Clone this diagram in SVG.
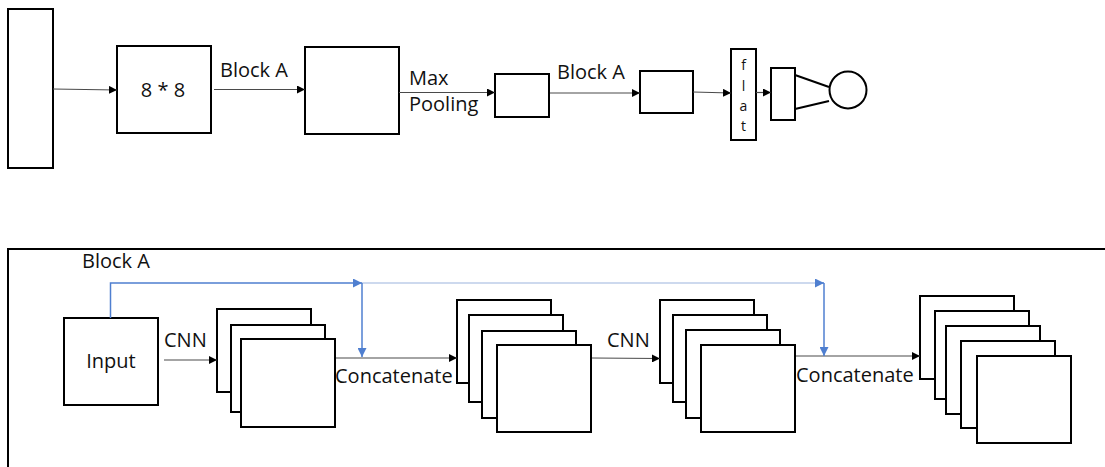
<svg xmlns="http://www.w3.org/2000/svg" width="1105" height="467" viewBox="0 0 1105 467">
  <style>
    .box { fill: #ffffff; stroke: #000000; stroke-width: 2; }
    .frame { fill: none; stroke: #000000; stroke-width: 2; }
    .conn { fill: none; stroke: #4a4a4a; stroke-width: 1.2; }
    .skip { fill: none; stroke: #4f7fd0; stroke-width: 1.5; }
    .skip-faint { fill: none; stroke: #bccde9; stroke-width: 1.5; }
    .lbl { font-family: "Open Sans", "Noto Sans", sans-serif; font-size: 20px; fill: #111111; }
    .small { font-family: "Open Sans", "Noto Sans", sans-serif; font-size: 14px; fill: #111111; text-anchor: middle; }
  </style>
  <defs>
    <marker id="arrow" viewBox="0 0 10 10" refX="10" refY="5" markerWidth="8" markerHeight="8" markerUnits="userSpaceOnUse" orient="auto">
      <path d="M0,0 L10,5 L0,10 Z" fill="#000000"/>
    </marker>
    <marker id="arrow-blue" viewBox="0 0 10 10" refX="10" refY="5" markerWidth="9" markerHeight="9" markerUnits="userSpaceOnUse" orient="auto">
      <path d="M0,0 L10,5 L0,10 Z" fill="#4f7fd0"/>
    </marker>
  </defs>

  <!-- Top pipeline -->
  <g id="input-column"><rect class="box" x="8" y="9" width="45" height="159"/></g>
  <g id="feature-8x8">
    <rect class="box" x="117" y="46" width="94" height="87"/>
    <text class="lbl" x="163" y="97" text-anchor="middle">8 * 8</text>
  </g>
  <g id="block-a-out"><rect class="box" x="305" y="47" width="94" height="87"/></g>
  <g id="pooled"><rect class="box" x="495" y="74" width="54" height="43"/></g>
  <g id="block-a-out-2"><rect class="box" x="640" y="71" width="53" height="42"/></g>
  <g id="flatten">
    <rect class="box" x="731" y="49" width="25" height="91"/>
    <!-- "flat" stacked one letter per line -->
    <text class="small" x="743.5" y="70">f</text>
    <text class="small" x="743.5" y="91">l</text>
    <text class="small" x="743.5" y="111">a</text>
    <text class="small" x="743.5" y="131">t</text>
  </g>
  <g id="dense"><rect class="box" x="771" y="68" width="24" height="52"/></g>
  <g id="output"><circle class="box" cx="848" cy="90" r="18.5"/></g>

  <g id="top-labels">
    <text class="lbl" x="220" y="77">Block A</text>
    <text class="lbl" x="409" y="85">Max</text>
    <text class="lbl" x="409" y="111">Pooling</text>
    <text class="lbl" x="557" y="79">Block A</text>
  </g>

  <g id="top-connectors">
    <line class="conn" x1="53" y1="89" x2="117" y2="90" marker-end="url(#arrow)"/>
    <line class="conn" x1="214" y1="89.5" x2="305" y2="89.5" marker-end="url(#arrow)"/>
    <line class="conn" x1="399" y1="92.5" x2="495" y2="92.5" marker-end="url(#arrow)"/>
    <line class="conn" x1="550" y1="93" x2="640" y2="93" marker-end="url(#arrow)"/>
    <line class="conn" x1="693" y1="92" x2="731" y2="93" marker-end="url(#arrow)"/>
    <line class="conn" x1="756" y1="92.5" x2="771" y2="92.5" marker-end="url(#arrow)"/>
    <line x1="795" y1="75" x2="829" y2="87" stroke="#000" stroke-width="2"/>
    <line x1="795" y1="109" x2="829" y2="101" stroke="#000" stroke-width="2"/>
  </g>

  <!-- Block A detail -->
  <rect class="frame" x="8" y="249" width="1110" height="240"/>
  <text class="lbl" x="82" y="268">Block A</text>

  <g id="block-input">
    <rect class="box" x="64" y="318" width="94" height="87"/>
    <text class="lbl" x="111" y="368" text-anchor="middle">Input</text>
  </g>

  <g id="stack-1">
    <rect class="box" x="217" y="309" width="94" height="83"/>
    <rect class="box" x="231" y="325" width="94" height="87"/>
    <rect class="box" x="241" y="339" width="94" height="88"/>
  </g>

  <g id="stack-2">
    <rect class="box" x="457" y="300" width="94" height="83"/>
    <rect class="box" x="469" y="315" width="94" height="87"/>
    <rect class="box" x="482" y="331" width="94" height="87"/>
    <rect class="box" x="497" y="345" width="94" height="87"/>
  </g>

  <g id="stack-3">
    <rect class="box" x="660" y="300" width="94" height="83"/>
    <rect class="box" x="673" y="315" width="94" height="87"/>
    <rect class="box" x="686" y="330" width="94" height="88"/>
    <rect class="box" x="701" y="345" width="94" height="87"/>
  </g>

  <g id="stack-4">
    <rect class="box" x="920" y="296" width="94" height="83"/>
    <rect class="box" x="935" y="311" width="94" height="88"/>
    <rect class="box" x="946" y="326" width="94" height="88"/>
    <rect class="box" x="961" y="341" width="94" height="87"/>
    <rect class="box" x="977" y="356" width="94" height="87"/>
  </g>

  <g id="block-labels">
    <text class="lbl" x="164" y="347">CNN</text>
    <text class="lbl" x="335" y="383">Concatenate</text>
    <text class="lbl" x="607" y="347">CNN</text>
    <text class="lbl" x="796" y="382">Concatenate</text>
  </g>

  <g id="block-connectors">
    <line class="conn" x1="164" y1="360" x2="217" y2="360" marker-end="url(#arrow)"/>
    <line class="conn" x1="336" y1="358" x2="457" y2="358" marker-end="url(#arrow)"/>
    <line class="conn" x1="592" y1="358" x2="660" y2="358.5" marker-end="url(#arrow)"/>
    <line class="conn" x1="796" y1="356" x2="920" y2="356" marker-end="url(#arrow)"/>
    <!-- skip connection carrying the input forward -->
    <polyline class="skip" points="110.5,318 110.5,283 362,283" marker-end="url(#arrow-blue)"/>
    <line class="skip-faint" x1="362" y1="283" x2="816" y2="283"/>
    <line x1="816" y1="283" x2="824" y2="283" stroke="#4f7fd0" stroke-width="1.5" marker-end="url(#arrow-blue)"/>
    <line class="skip" x1="362" y1="283" x2="362" y2="357" marker-end="url(#arrow-blue)"/>
    <line class="skip" x1="824" y1="283" x2="824" y2="356" marker-end="url(#arrow-blue)"/>
  </g>
</svg>
